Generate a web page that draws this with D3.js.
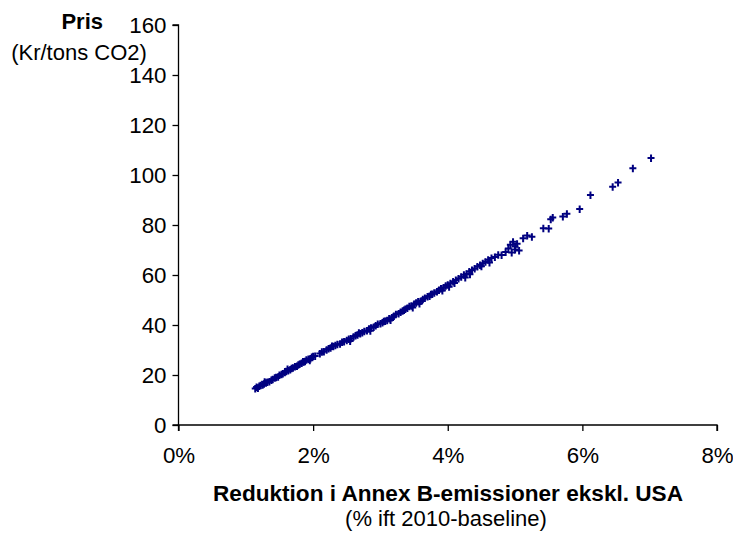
<!DOCTYPE html>
<html>
<head>
<meta charset="utf-8">
<script src="https://cdn.jsdelivr.net/npm/d3@7"></script>
<style>
  body { margin: 0; background: #fff; }
  svg text { font-family: "Liberation Sans", Arial, sans-serif; fill: #000; }
</style>
</head>
<body>
<svg></svg>
<script>
const width = 733;
const height = 533;

// Données : réduction (%) et prix (Kr/tons CO2)
const reduktion = [
  1.14, 1.16, 1.18, 1.20, 1.22, 1.25, 1.27, 1.30, 1.32, 1.35, 1.38, 1.40, 1.43, 1.45, 1.48,
  1.50, 1.53, 1.55, 1.58, 1.60, 1.63, 1.66, 1.68, 1.70, 1.73, 1.76, 1.78, 1.80, 1.83, 1.86,
  1.88, 1.90, 1.93, 1.95, 1.96, 1.98, 2.00, 2.03, 2.10, 2.13, 2.16, 2.20, 2.23, 2.26, 2.30,
  2.33, 2.36, 2.40, 2.43, 2.46, 2.50, 2.53, 2.55, 2.56, 2.60, 2.63, 2.66, 2.70, 2.73, 2.76,
  2.80, 2.83, 2.85, 2.86, 2.90, 2.93, 2.96, 3.00, 3.03, 3.07, 3.10, 3.13, 3.15, 3.17, 3.20,
  3.23, 3.27, 3.30, 3.33, 3.37, 3.40, 3.43, 3.46, 3.50, 3.53, 3.56, 3.58, 3.60, 3.63, 3.66,
  3.70, 3.73, 3.77, 3.80, 3.84, 3.87, 3.90, 3.92, 3.94, 3.97, 4.00, 4.04, 4.08, 4.10, 4.12,
  4.16, 4.20, 4.24, 4.28, 4.32, 4.33, 4.36, 4.40, 4.44, 4.48, 4.50, 4.52, 4.56, 4.60, 4.65,
  4.70, 4.75, 4.80, 4.86, 4.90, 4.93, 4.97, 5.00, 5.03, 5.06, 5.12, 5.18, 5.25, 5.42, 5.50,
  5.53, 5.56, 5.71, 5.77, 5.96, 6.12, 6.45, 6.53, 6.75, 7.02,
  1.28, 1.62, 1.85, 2.28, 2.68, 3.05, 3.35, 3.48, 3.75, 4.02, 4.26, 4.62, 4.95, 5.00
];
const pris = [
  14.6, 15.2, 14.8, 15.6, 15.9, 16.1, 16.5, 16.9, 17.2, 17.4, 18.0, 18.3, 18.9, 19.1, 19.3,
  20.0, 20.3, 20.6, 21.1, 21.5, 21.8, 22.2, 22.7, 22.9, 23.4, 23.6, 24.1, 24.4, 24.8, 25.3,
  25.5, 26.1, 26.4, 25.9, 26.6, 27.2, 27.5, 27.6, 28.6, 29.3, 29.4, 30.1, 30.6, 30.9, 31.5,
  31.9, 32.3, 32.5, 33.2, 33.4, 33.9, 34.4, 33.6, 34.6, 35.3, 35.8, 36.1, 36.6, 37.0, 37.5,
  37.8, 38.5, 37.7, 38.9, 39.2, 39.8, 40.4, 40.6, 41.0, 41.6, 41.9, 42.6, 42.0, 43.0, 43.6,
  44.3, 44.6, 45.2, 45.7, 46.4, 46.8, 47.5, 47.7, 48.4, 48.9, 49.4, 48.6, 49.6, 50.3, 50.8,
  51.4, 51.6, 52.4, 52.9, 53.4, 54.0, 54.6, 53.8, 55.0, 55.7, 56.1, 56.7, 57.4, 56.8, 58.0,
  58.6, 59.3, 60.1, 60.5, 61.4, 60.3, 62.0, 62.6, 63.4, 64.0, 63.5, 64.7, 65.3, 66.1, 66.8,
  67.2, 68.1, 68.0, 69.2, 70.6, 72.1, 73.3, 71.4, 72.5, 69.8, 74.7, 75.8, 75.3, 78.7, 78.6,
  82.3, 83.0, 83.4, 84.5, 86.4, 92.0, 95.3, 97.0, 102.7, 106.8,
  17.3, 22.4, 25.4, 31.6, 36.9, 41.5, 46.0, 47.0, 52.3, 55.3, 59.0, 65.0, 69.0, 70.2
];
const points = reduktion.map((r, i) => ({ x: r, y: pris[i] }));

const xTicks = [0, 2, 4, 6, 8];
const yTicks = [0, 20, 40, 60, 80, 100, 120, 140, 160];

const svg = d3.select("svg")
  .attr("width", width)
  .attr("height", height);

// Échelles
const x = d3.scaleLinear().domain([0, 8]).range([178.5, 717]);
const y = d3.scaleLinear().domain([0, 160]).range([425, 25]);

// Axe Y
const yAxis = svg.append("g")
  .attr("transform", `translate(${x(0)},0)`)
  .call(d3.axisLeft(y).tickValues(yTicks).tickSize(6).tickPadding(6));

// Axe X
const xAxis = svg.append("g")
  .attr("transform", `translate(0,${y(0)})`)
  .call(d3.axisBottom(x).tickValues(xTicks).tickSize(6).tickPadding(16)
    .tickFormat(d => d + "%"));

[yAxis, xAxis].forEach(g => {
  g.select(".domain").attr("stroke", "#000").attr("stroke-width", 1.3);
  g.selectAll(".tick line").attr("stroke", "#000").attr("stroke-width", 1.3);
  g.selectAll(".tick text")
    .style("font-family", "'Liberation Sans', Arial, sans-serif")
    .style("font-size", "22.3px")
    .attr("fill", "#000");
});
// enlever les petits bouts de l'axe
xAxis.select(".domain").attr("d", `M${x(0)},6V0H${x(8)}V6`);
yAxis.select(".domain").attr("d", `M-6,${y(160)}H0V${y(0)}H-6`);

// Points "+"
svg.append("g")
  .selectAll("path")
  .data(points)
  .join("path")
  .attr("transform", d => `translate(${x(d.x)},${y(d.y)})`)
  .attr("d", "M-3.5,0H3.5M0,-3.5V4")
  .attr("stroke", "#000080")
  .attr("stroke-width", 2)
  .attr("fill", "none");

// Titres
svg.append("text")
  .attr("x", 103).attr("y", 29)
  .attr("text-anchor", "end")
  .style("font-size", "22px")
  .style("font-weight", "bold")
  .text("Pris");

svg.append("text")
  .attr("x", 79).attr("y", 60)
  .attr("text-anchor", "middle")
  .style("font-size", "22px")
  .text("(Kr/tons CO2)");

svg.append("text")
  .attr("x", 448).attr("y", 501)
  .attr("text-anchor", "middle")
  .style("font-size", "22.6px")
  .style("font-weight", "bold")
  .text("Reduktion i Annex B-emissioner ekskl. USA");

svg.append("text")
  .attr("x", 446).attr("y", 526)
  .attr("text-anchor", "middle")
  .style("font-size", "22px")
  .text("(% ift 2010-baseline)");
</script>
</body>
</html>
